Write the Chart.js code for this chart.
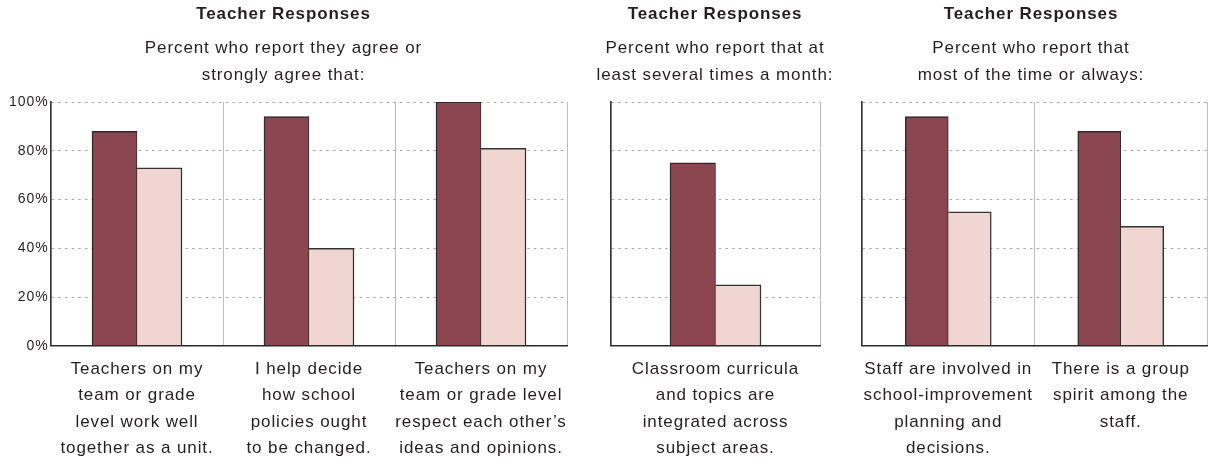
<!DOCTYPE html>
<html>
<head>
<meta charset="utf-8">
<script src="https://cdn.jsdelivr.net/npm/chart.js@4.4.1/dist/chart.umd.min.js"></script>
<style>
  html, body { margin: 0; padding: 0; background: #fff; }
  body { width: 1216px; height: 461px; position: relative; overflow: hidden; }
  canvas { position: absolute; top: 0; }
</style>
</head>
<body>
<canvas id="panel1" width="590" height="472" style="left:0px"></canvas>
<canvas id="panel2" width="270" height="472" style="left:580px"></canvas>
<canvas id="panel3" width="376" height="472" style="left:840px"></canvas>
<script>
// textos
var titleText = 'Teacher Responses';
var subtitle1 = ['Percent who report they agree or', 'strongly agree that:'];
var subtitle2 = ['Percent who report that at', 'least several times a month:'];
var subtitle3 = ['Percent who report that', 'most of the time or always:'];

// panel 1
var labels1 = [
  ['Teachers on my', 'team or grade', 'level work well', 'together as a unit.'],
  ['I help decide', 'how school', 'policies ought', 'to be changed.'],
  ['Teachers on my', 'team or grade level', 'respect each other\u2019s', 'ideas and opinions.']
];
var school1 = [88, 94, 100];
var comparison1 = [73, 40, 81];

// panel 2
var labels2 = [['Classroom curricula', 'and topics are', 'integrated across', 'subject areas.']];
var school2 = [75];
var comparison2 = [25];

// panel 3
var labels3 = [
  ['Staff are involved in', 'school-improvement', 'planning and', 'decisions.'],
  ['There is a group', 'spirit among the', 'staff.']
];
var school3 = [94, 88];
var comparison3 = [55, 49];

var yTicks = [0, 20, 40, 60, 80, 100];

var FONT = '"Liberation Sans", Arial, Helvetica, sans-serif';
var TEXT = '#231f20';

// Helvetica del original es algo mas ancho: espaciado de letras
var spacing = {
  id: 'spacing',
  beforeUpdate: function(chart) { chart.ctx.letterSpacing = '0.9px'; },
  beforeDraw: function(chart) { chart.ctx.letterSpacing = '0.9px'; }
};

function makePanel(id, labels, school, comparison, subtitle, o) {
  return new Chart(document.getElementById(id), {
    type: 'bar',
    data: {
      labels: labels,
      datasets: [{
        label: 'School',
        data: school,
        backgroundColor: '#8b4650',
        borderColor: '#2e2a2b',
        borderWidth: { left: 1.5, top: 1.5, right: 1, bottom: 0 },
        barThickness: o.bar
      }, {
        label: 'Comparison',
        data: comparison,
        backgroundColor: '#f0d6d1',
        borderColor: '#353233',
        borderWidth: { left: 0, top: 1.5, right: 1.5, bottom: 0 },
        barThickness: o.bar
      }]
    },
    options: {
      responsive: false,
      animation: false,
      layout: { padding: { left: o.padL, right: o.padR, top: 0, bottom: 0 } },
      plugins: {
        legend: { display: false },
        tooltip: { enabled: false },
        title: {
          display: true, text: titleText, color: TEXT,
          font: { family: FONT, size: 17, weight: 'bold', lineHeight: 1.2 },
          padding: { top: 4, bottom: 0 }
        },
        subtitle: {
          display: true, text: subtitle, color: TEXT,
          font: { family: FONT, size: 17, lineHeight: 27 / 17 },
          padding: { top: 10.1, bottom: 13.5 }
        }
      },
      scales: {
        x: {
          grid: { color: '#bdbdbd', lineWidth: 1, drawTicks: false, offset: true },
          border: { display: true, color: '#2b2b2b', width: 1.5, z: 1 },
          ticks: {
            color: TEXT, autoSkip: false, maxRotation: 0, padding: 10.5,
            font: { family: FONT, size: 17, lineHeight: 1.547 }
          },
          afterFit: function(s) { s.paddingLeft = 0; s.paddingRight = 0; }
        },
        y: {
          min: 0, max: 100,
          afterBuildTicks: function(s) { s.ticks = yTicks.map(function(v) { return { value: v }; }); },
          afterFit: function(s) { s.width = o.yWidth; },
          grid: {
            drawTicks: false, lineWidth: 1,
            color: function(c) { return c.tick && c.tick.value === 0 ? 'rgba(0,0,0,0)' : '#a8a8a8'; }
          },
          border: { display: true, color: '#333', width: 1.5, dash: [2.5, 4.2], z: 1 },
          ticks: {
            display: o.showY, color: TEXT, padding: 2.5,
            font: { family: FONT, size: 14 },
            callback: function(v) { return v + '%'; }
          }
        },
        // eje vacio a la derecha solo para reservar margen
        yRight: {
          position: 'right',
          display: o.rightW > 0,
          min: 0, max: 100,
          grid: { display: false },
          border: { display: false },
          ticks: { display: false },
          afterFit: function(s) { s.width = o.rightW; }
        }
      }
    },
    plugins: [spacing]
  });
}

makePanel('panel1', labels1, school1, comparison1, subtitle1, { padL: 0, padR: 23, rightW: 0, yWidth: 51, showY: true, bar: 45 });
makePanel('panel2', labels2, school2, comparison2, subtitle2, { padL: 0, padR: 0, rightW: 30, yWidth: 31, showY: false, bar: 45.5 });
makePanel('panel3', labels3, school3, comparison3, subtitle3, { padL: 15, padR: 9, rightW: 0, yWidth: 7, showY: false, bar: 43 });
</script>
</body>
</html>
